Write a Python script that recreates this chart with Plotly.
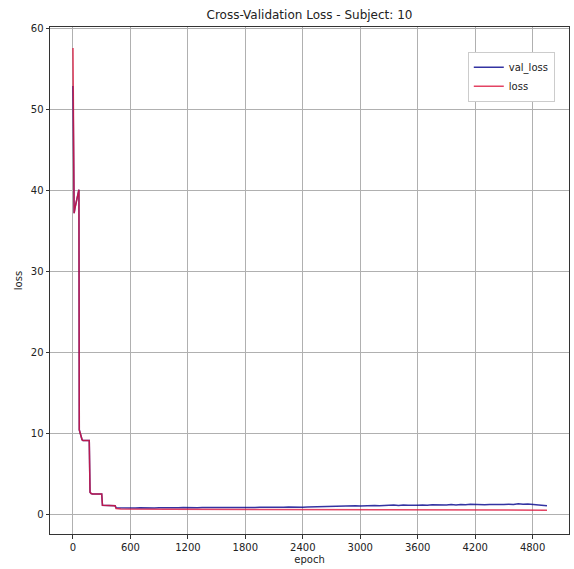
import plotly.graph_objects as go

# early phase (both series follow the same steps)
early_epochs = [0, 5, 12, 20, 40, 62, 66, 80, 95, 105, 170, 178, 190, 205, 300, 308, 440, 450]
early_loss = [57.6, 45.0, 37.2, 37.8, 39.0, 40.1, 10.4, 9.8, 9.2, 9.1, 9.1, 2.7, 2.55, 2.5, 2.5, 1.1, 1.05, 0.70]
early_val = [52.9, 45.0, 37.2, 37.8, 39.0, 40.1, 10.4, 9.8, 9.2, 9.1, 9.1, 2.7, 2.55, 2.5, 2.5, 1.1, 1.05, 0.80]

# later phase, val_loss read every 50 epochs
late_val_epochs = list(range(500, 5000, 50))
late_val = [0.78, 0.74, 0.76, 0.75, 0.78, 0.76, 0.79, 0.77, 0.80, 0.78,
            0.81, 0.79, 0.80, 0.82, 0.79, 0.81, 0.80, 0.83, 0.81, 0.82,
            0.80, 0.84, 0.82, 0.83, 0.81, 0.85, 0.83, 0.84, 0.82, 0.85,
            0.84, 0.86, 0.84, 0.87, 0.85, 0.88, 0.86, 0.89, 0.87, 0.90,
            0.92, 0.89, 0.93, 0.91, 0.95, 1.00, 0.98, 1.02, 1.00, 1.04,
            1.02, 1.06, 1.03, 1.07, 1.05, 1.09, 1.06, 1.12, 1.08, 1.14,
            1.10, 1.15, 1.11, 1.13, 1.09, 1.16, 1.12, 1.17, 1.13, 1.18,
            1.14, 1.20, 1.16, 1.22, 1.18, 1.21, 1.15, 1.20, 1.17, 1.23,
            1.18, 1.24, 1.20, 1.30, 1.22, 1.26, 1.20, 1.18, 1.12, 1.05]

late_loss_epochs = [500, 1000, 2000, 3000, 4000, 4950]
late_loss = [0.64, 0.62, 0.58, 0.55, 0.52, 0.50]

val_x = early_epochs + late_val_epochs
val_y = early_val + late_val
loss_x = early_epochs + late_loss_epochs
loss_y = early_loss + late_loss

x_ticks = [0, 600, 1200, 1800, 2400, 3000, 3600, 4200, 4800]
y_ticks = [0, 10, 20, 30, 40, 50, 60]

fig = go.Figure()
fig.add_trace(go.Scatter(x=val_x, y=val_y, mode="lines", name="val_loss",
                         line=dict(color="rgba(0,0,139,0.8)", width=1.5)))
fig.add_trace(go.Scatter(x=loss_x, y=loss_y, mode="lines", name="loss",
                         line=dict(color="rgba(220,20,60,0.8)", width=1.5)))

axis_common = dict(showgrid=True, gridcolor="#b0b0b0", gridwidth=0.8,
                   showline=True, linecolor="#333333", linewidth=1, mirror=True,
                   ticks="outside", ticklen=3.5, tickcolor="#333333",
                   zeroline=False, tickfont=dict(family="DejaVu Sans", size=10, color="#222"))

fig.update_layout(
    width=574, height=569,
    margin=dict(l=50, r=5, t=27, b=35),
    paper_bgcolor="white", plot_bgcolor="white",
    font=dict(family="DejaVu Sans", size=10, color="#222"),
    title=dict(text="Cross-Validation Loss - Subject: 10", x=0.5, xref="paper",
               y=1 - 15 / 569, yref="container", yanchor="middle", xanchor="center",
               font=dict(family="DejaVu Sans", size=12, color="#222")),
    xaxis=dict(range=[-240, 5180], tickvals=x_ticks,
               title=dict(text="epoch", standoff=4, font=dict(size=10)), **axis_common),
    yaxis=dict(range=[-2.45, 60.2], tickvals=y_ticks,
               title=dict(text="loss", standoff=6, font=dict(size=10)), **axis_common),
    legend=dict(x=0.805, y=0.951, xanchor="left", yanchor="top",
                bgcolor="white", bordercolor="#cccccc", borderwidth=1,
                font=dict(family="DejaVu Sans", size=10, color="#222"),
                tracegroupgap=0, itemwidth=30),
    showlegend=True,
)

fig.write_html("out.html")
